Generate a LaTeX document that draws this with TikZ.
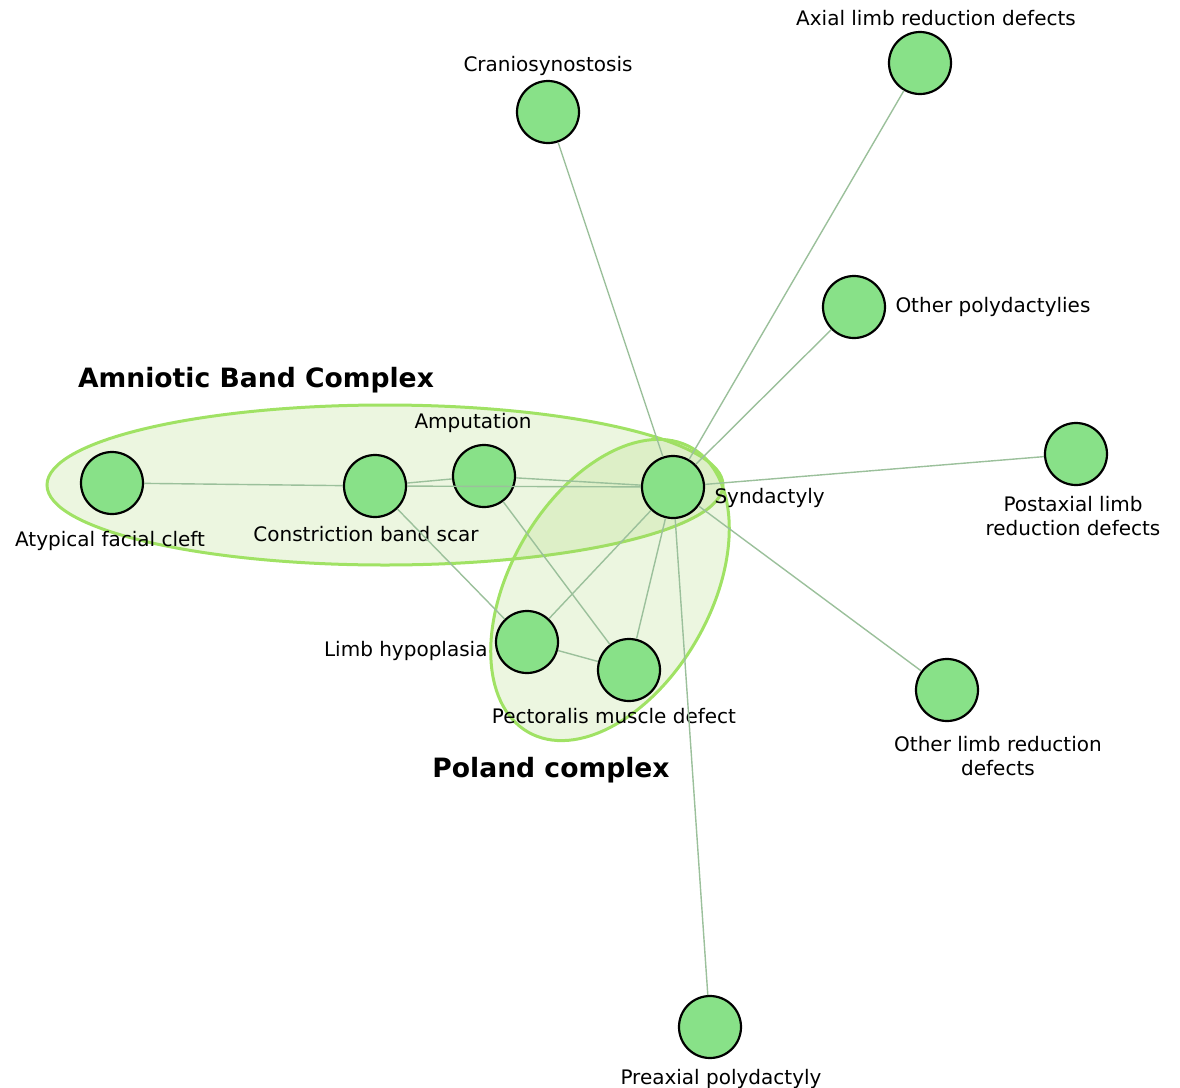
\documentclass[tikz,border=0pt]{standalone}
\usepackage{fontspec}
\setmainfont{DejaVu Sans}
\usepackage{xcolor}
\usepackage{tikz}
\usetikzlibrary{positioning}
\definecolor{nodegreen}{RGB}{136,225,136}
\definecolor{linkgreen}{RGB}{155,192,155}
\definecolor{hullline}{RGB}{160,226,100}
\definecolor{hullfill}{RGB}{160,210,100}

\begin{document}
\begin{tikzpicture}[x=0.5pt, y=0.5pt, font=\fontsize{10}{12}\selectfont,
  nd/.style={circle,draw=black,line width=1.1pt,fill=nodegreen,minimum size=31pt,inner sep=0pt},
  lb/.style={align=center,inner sep=1pt},
  ed/.style={draw=linkgreen,line width=0.7pt},
  hl/.style={draw=hullline,line width=1.5pt,fill=hullfill,fill opacity=0.2},
  ttl/.style={font=\fontsize{13.3}{16}\selectfont\bfseries}]
\useasboundingbox (0,0) rectangle (1180,-1088);
% groups
\draw[hl] (385,-485) ellipse [x radius=338, y radius=80];
\draw[hl] (610,-590) ellipse [x radius=164, y radius=100, rotate=60];
\node[ttl] (abc) at (256,-380) {Amniotic Band Complex};
\node[ttl] (pol) at (551,-770) {Poland complex};
% defects
\node[nd] (syn) at (673,-487) {};
\node[nd] (cra) at (548,-112) {};
\node[nd] (axl) at (920,-63) {};
\node[nd] (opl) at (854,-307) {};
\node[nd] (pax) at (1076,-454) {};
\node[nd] (olr) at (947,-690) {};
\node[nd] (ppx) at (710,-1027) {};
\node[nd] (amp) at (484,-476) {};
\node[nd] (cbs) at (375,-486) {};
\node[nd] (afc) at (112,-483) {};
\node[nd] (lhy) at (527,-642) {};
\node[nd] (pmd) at (629,-670) {};
% labels
\node[lb, right=3.5pt of syn, yshift=-5.5pt] (syn-t) {Syndactyly};
\node[lb, above=1pt of cra] (cra-t) {Craniosynostosis};
\node[lb, above=1.5pt of axl, xshift=8pt] (axl-t) {Axial limb reduction defects};
\node[lb, right=3.5pt of opl] (opl-t) {Other polydactylies};
\node[lb, below=4pt of pax, xshift=-1.5pt] (pax-t) {Postaxial limb\\reduction defects};
\node[lb, below=6pt of olr, xshift=25.5pt] (olr-t) {Other limb reduction\\defects};
\node[lb, below=4pt of ppx, xshift=5.5pt] (ppx-t) {Preaxial polydactyly};
\node[lb, above=4.5pt of amp, xshift=-5.5pt] (amp-t) {Amputation};
\node[lb, below=3pt of cbs, xshift=-4.5pt] (cbs-t) {Constriction band scar};
\node[lb, below=7pt of afc, xshift=-1pt] (afc-t) {Atypical facial cleft};
\node[lb, left=2.5pt of lhy, yshift=-4.5pt] (lhy-t) {Limb hypoplasia};
\node[lb, below=2pt of pmd, xshift=-7.5pt] (pmd-t) {Pectoralis muscle defect};
% links
\foreach \b in {cra,axl,opl,pax,olr,ppx,amp,cbs,lhy,pmd}
  \draw[ed] (syn) -- (\b);
\draw[ed] (afc) -- (cbs);
\draw[ed] (cbs) -- (amp);
\draw[ed] (cbs) -- (lhy);
\draw[ed] (amp) -- (pmd);
\draw[ed] (lhy) -- (pmd);
\end{tikzpicture}
\end{document}
